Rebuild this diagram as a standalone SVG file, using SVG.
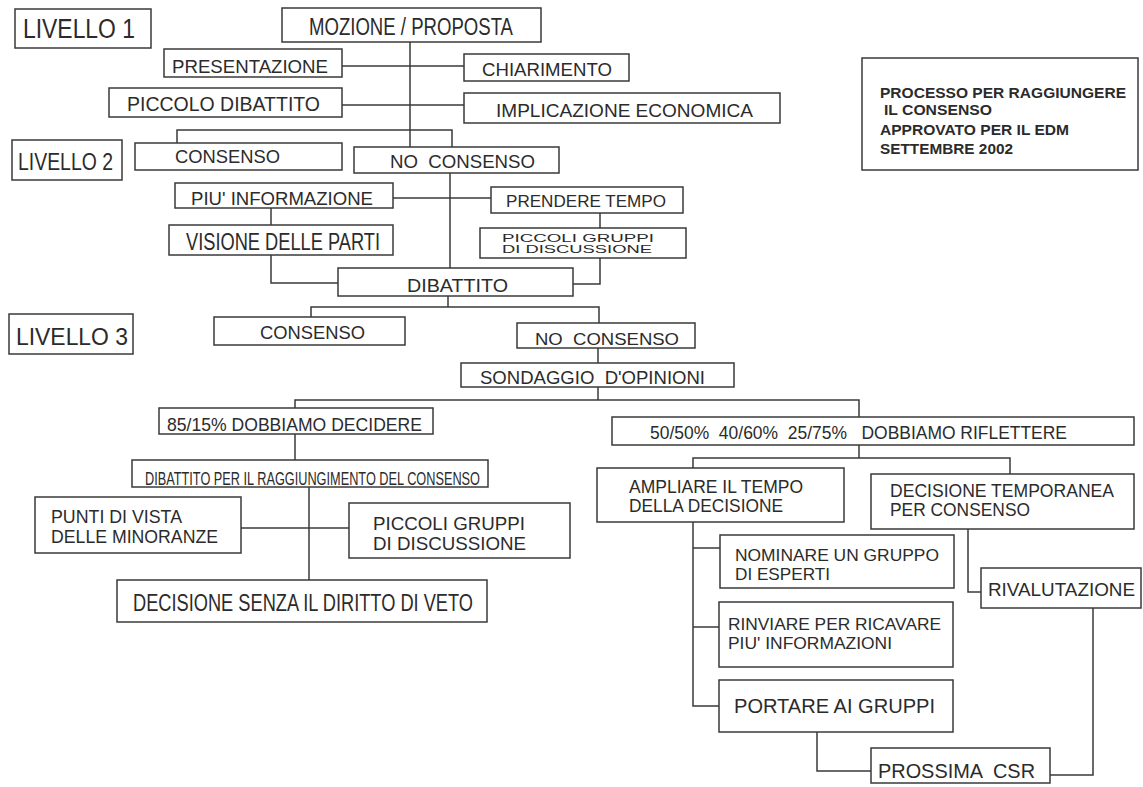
<svg xmlns="http://www.w3.org/2000/svg" width="1143" height="787" viewBox="0 0 1143 787">
<style>
.b{fill:#fff;stroke:#3a3a3a;stroke-width:1.5}
.c{fill:none;stroke:#3a3a3a;stroke-width:1.5}
text{font-family:"Liberation Sans",Arial,sans-serif;fill:#2b2b2b;white-space:pre}
.h{font-weight:bold}
</style>
<rect width="1143" height="787" fill="#fff"/>
<g id="connectors">
<path class="c" d="M410,42V147"/>
<path class="c" d="M342,66H464"/>
<path class="c" d="M342,105H464"/>
<path class="c" d="M177,143V130H452V147"/>
<path class="c" d="M450,173V268"/>
<path class="c" d="M393,198H491"/>
<path class="c" d="M271,208V225"/>
<path class="c" d="M271,255V283H338"/>
<path class="c" d="M600,213V228"/>
<path class="c" d="M600,258V284H573"/>
<path class="c" d="M448,296V307"/>
<path class="c" d="M311,317V307H599V323"/>
<path class="c" d="M598,348V363"/>
<path class="c" d="M598,387V400"/>
<path class="c" d="M295,408V400H859V417"/>
<path class="c" d="M295,434V460"/>
<path class="c" d="M309,487V580"/>
<path class="c" d="M241,528H349"/>
<path class="c" d="M859,445V458"/>
<path class="c" d="M693,468V458H1010V474"/>
<path class="c" d="M693,522V706H719"/>
<path class="c" d="M693,548H720"/>
<path class="c" d="M693,627H719"/>
<path class="c" d="M817,732V771H871"/>
<path class="c" d="M1050,775H1093V608"/>
<path class="c" d="M968,529V592H981"/>
</g>
<g id="livello1"><rect class="b" x="15" y="9" width="136" height="39"/><text x="23" y="38" font-size="27" textLength="112" lengthAdjust="spacingAndGlyphs">LIVELLO 1</text></g>
<g id="mozione"><rect class="b" x="282" y="8" width="259" height="34"/><text x="309" y="35" font-size="23" textLength="204" lengthAdjust="spacingAndGlyphs">MOZIONE / PROPOSTA</text></g>
<g id="presentazione"><rect class="b" x="164" y="49" width="178" height="28"/><text x="172" y="73" font-size="19" textLength="156" lengthAdjust="spacingAndGlyphs">PRESENTAZIONE</text></g>
<g id="chiarimento"><rect class="b" x="464" y="54" width="165" height="27"/><text x="482" y="76" font-size="18" textLength="130" lengthAdjust="spacingAndGlyphs">CHIARIMENTO</text></g>
<g id="piccolo-dibattito"><rect class="b" x="109" y="88" width="233" height="29"/><text x="127" y="111" font-size="21" textLength="193" lengthAdjust="spacingAndGlyphs">PICCOLO DIBATTITO</text></g>
<g id="implicazione"><rect class="b" x="464" y="93" width="316" height="30"/><text x="496" y="117" font-size="19" textLength="257" lengthAdjust="spacingAndGlyphs">IMPLICAZIONE ECONOMICA</text></g>
<g id="titolo"><rect class="b" x="862" y="58" width="276" height="112"/>
<text class="h" x="880" y="98" font-size="15.5" textLength="246" lengthAdjust="spacingAndGlyphs">PROCESSO PER RAGGIUNGERE</text>
<text class="h" x="884" y="115" font-size="15.5" textLength="108" lengthAdjust="spacingAndGlyphs">IL CONSENSO</text>
<text class="h" x="880" y="135" font-size="15.5" textLength="189" lengthAdjust="spacingAndGlyphs">APPROVATO PER IL EDM</text>
<text class="h" x="880" y="154" font-size="15.5" textLength="133" lengthAdjust="spacingAndGlyphs">SETTEMBRE 2002</text></g>
<g id="livello2"><rect class="b" x="12" y="140" width="110" height="40"/><text x="18" y="170" font-size="24" textLength="95" lengthAdjust="spacingAndGlyphs">LIVELLO 2</text></g>
<g id="consenso2"><rect class="b" x="135" y="143" width="207" height="27"/><text x="175" y="163" font-size="19" textLength="105" lengthAdjust="spacingAndGlyphs">CONSENSO</text></g>
<g id="no-consenso2"><rect class="b" x="354" y="147" width="205" height="26"/><text x="390" y="168" font-size="18" textLength="145" lengthAdjust="spacingAndGlyphs">NO  CONSENSO</text></g>
<g id="piu-informazione"><rect class="b" x="175" y="183" width="218" height="25"/><text x="191" y="205" font-size="18" textLength="182" lengthAdjust="spacingAndGlyphs">PIU' INFORMAZIONE</text></g>
<g id="prendere-tempo"><rect class="b" x="491" y="187" width="192" height="26"/><text x="506" y="207" font-size="17" textLength="160" lengthAdjust="spacingAndGlyphs">PRENDERE TEMPO</text></g>
<g id="visione"><rect class="b" x="169" y="225" width="224" height="30"/><text x="186" y="250" font-size="23" textLength="194" lengthAdjust="spacingAndGlyphs">VISIONE DELLE PARTI</text></g>
<g id="piccoli-gruppi1"><rect class="b" x="480" y="228" width="206" height="30"/>
<text x="502" y="242" font-size="10.5" textLength="152" lengthAdjust="spacingAndGlyphs">PICCOLI GRUPPI</text>
<text x="502" y="253" font-size="10.5" textLength="150" lengthAdjust="spacingAndGlyphs">DI DISCUSSIONE</text></g>
<g id="dibattito"><rect class="b" x="338" y="268" width="235" height="28"/><text x="407" y="292" font-size="19" textLength="101" lengthAdjust="spacingAndGlyphs">DIBATTITO</text></g>
<g id="livello3"><rect class="b" x="9" y="314" width="124" height="40"/><text x="16" y="345" font-size="24" textLength="112" lengthAdjust="spacingAndGlyphs">LIVELLO 3</text></g>
<g id="consenso3"><rect class="b" x="214" y="317" width="191" height="28"/><text x="260" y="339" font-size="18" textLength="105" lengthAdjust="spacingAndGlyphs">CONSENSO</text></g>
<g id="no-consenso3"><rect class="b" x="517" y="323" width="178" height="25"/><text x="535" y="345" font-size="17" textLength="144" lengthAdjust="spacingAndGlyphs">NO  CONSENSO</text></g>
<g id="sondaggio"><rect class="b" x="461" y="363" width="273" height="24"/><text x="480" y="384" font-size="18" textLength="225" lengthAdjust="spacingAndGlyphs">SONDAGGIO  D'OPINIONI</text></g>
<g id="decidere"><rect class="b" x="159" y="408" width="274" height="26"/><text x="167" y="431" font-size="19" textLength="255" lengthAdjust="spacingAndGlyphs">85/15% DOBBIAMO DECIDERE</text></g>
<g id="riflettere"><rect class="b" x="612" y="417" width="522" height="28"/><text x="650" y="439" font-size="17.5" textLength="417" lengthAdjust="spacingAndGlyphs">50/50%  40/60%  25/75%   DOBBIAMO RIFLETTERE</text></g>
<g id="dibattito-per"><rect class="b" x="132" y="460" width="356" height="27"/><text x="145" y="485" font-size="18" textLength="335" lengthAdjust="spacingAndGlyphs">DIBATTITO PER IL RAGGIUNGIMENTO DEL CONSENSO</text></g>
<g id="ampliare"><rect class="b" x="597" y="468" width="247" height="54"/>
<text x="629" y="493" font-size="18" textLength="174" lengthAdjust="spacingAndGlyphs">AMPLIARE IL TEMPO</text>
<text x="629" y="512" font-size="18" textLength="154" lengthAdjust="spacingAndGlyphs">DELLA DECISIONE</text></g>
<g id="decisione-temporanea"><rect class="b" x="871" y="474" width="263" height="55"/>
<text x="890" y="497" font-size="19" textLength="224" lengthAdjust="spacingAndGlyphs">DECISIONE TEMPORANEA</text>
<text x="890" y="516" font-size="19" textLength="140" lengthAdjust="spacingAndGlyphs">PER CONSENSO</text></g>
<g id="punti-di-vista"><rect class="b" x="35" y="497" width="206" height="56"/>
<text x="51" y="523" font-size="18" textLength="131" lengthAdjust="spacingAndGlyphs">PUNTI DI VISTA</text>
<text x="51" y="543" font-size="18" textLength="167" lengthAdjust="spacingAndGlyphs">DELLE MINORANZE</text></g>
<g id="piccoli-gruppi2"><rect class="b" x="349" y="503" width="221" height="55"/>
<text x="373" y="530" font-size="18.5" textLength="152" lengthAdjust="spacingAndGlyphs">PICCOLI GRUPPI</text>
<text x="373" y="550" font-size="18.5" textLength="153" lengthAdjust="spacingAndGlyphs">DI DISCUSSIONE</text></g>
<g id="nominare"><rect class="b" x="720" y="535" width="234" height="53"/>
<text x="735" y="561" font-size="17" textLength="204" lengthAdjust="spacingAndGlyphs">NOMINARE UN GRUPPO</text>
<text x="735" y="580" font-size="17" textLength="95" lengthAdjust="spacingAndGlyphs">DI ESPERTI</text></g>
<g id="rivalutazione"><rect class="b" x="981" y="568" width="160" height="40"/><text x="988" y="596" font-size="19" textLength="147" lengthAdjust="spacingAndGlyphs">RIVALUTAZIONE</text></g>
<g id="decisione-senza-veto"><rect class="b" x="117" y="580" width="370" height="42"/><text x="133" y="611" font-size="24" textLength="340" lengthAdjust="spacingAndGlyphs">DECISIONE SENZA IL DIRITTO DI VETO</text></g>
<g id="rinviare"><rect class="b" x="719" y="602" width="234" height="65"/>
<text x="728" y="630" font-size="17" textLength="213" lengthAdjust="spacingAndGlyphs">RINVIARE PER RICAVARE</text>
<text x="728" y="649" font-size="17" textLength="164" lengthAdjust="spacingAndGlyphs">PIU' INFORMAZIONI</text></g>
<g id="portare"><rect class="b" x="719" y="680" width="234" height="52"/><text x="734" y="713" font-size="21" textLength="201" lengthAdjust="spacingAndGlyphs">PORTARE AI GRUPPI</text></g>
<g id="prossima-csr"><rect class="b" x="871" y="748" width="179" height="35"/><text x="878" y="778" font-size="20" textLength="157" lengthAdjust="spacingAndGlyphs">PROSSIMA  CSR</text></g>
</svg>
